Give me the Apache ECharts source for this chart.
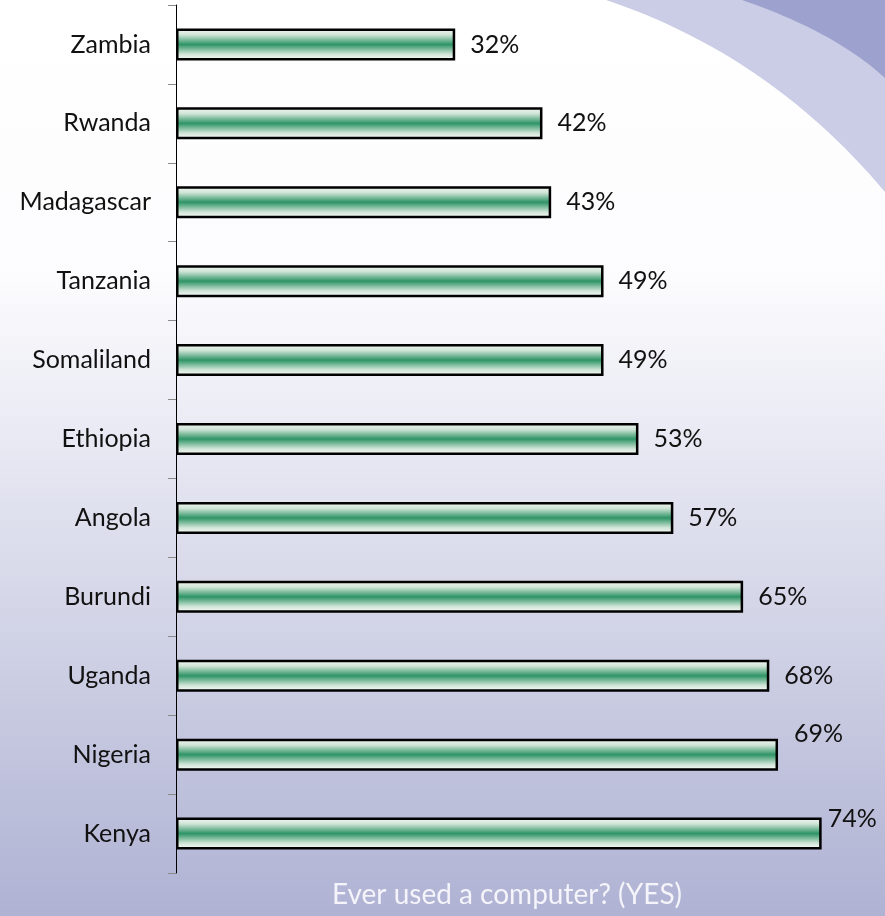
<!DOCTYPE html>
<html lang="en">
  <head>
    <meta charset="UTF-8" />
    <title>Ever used a computer?</title>
    <script src="https://cdn.jsdelivr.net/npm/echarts@6/dist/echarts.min.js"></script>
    <style>
      html, body { margin: 0; padding: 0; }
      #chart { width: 885px; height: 916px; }
    </style>
  </head>
  <body>
    <div id="chart"></div>
    <script>
      var countries = ['Zambia', 'Rwanda', 'Madagascar', 'Tanzania', 'Somaliland', 'Ethiopia',
                       'Angola', 'Burundi', 'Uganda', 'Nigeria', 'Kenya'];
      var usedComputer = [32, 42, 43, 49, 49, 53, 57, 65, 68, 69, 74];
      var titleText = 'Ever used a computer? (YES)';

      // labels that sit above the bar end in the original
      var labelShift = {
        Nigeria: { offset: [1, -21] },
        Kenya: { distance: 6, offset: [0, -15] }
      };

      var font = 'Lato, "Liberation Sans", sans-serif';

      // corner swoosh: quadratic curve from p0 to p2, closed through the top-right corner
      function swoosh(p0, c, p2) {
        var pts = [];
        for (var i = 0; i <= 30; i++) {
          var t = i / 30, u = 1 - t;
          pts.push([u * u * p0[0] + 2 * u * t * c[0] + t * t * p2[0],
                    u * u * p0[1] + 2 * u * t * c[1] + t * t * p2[1]]);
        }
        pts.push([885, 0]);
        return pts;
      }

      var barFill = new echarts.graphic.LinearGradient(0, 0, 0, 1, [
        { offset: 0, color: '#f6f9f6' },
        { offset: 0.2, color: '#cfe4d6' },
        { offset: 0.5, color: '#2e9466' },
        { offset: 0.8, color: '#cfe4d6' },
        { offset: 1, color: '#ffffff' }
      ]);

      var seriesData = usedComputer.map(function (v, i) {
        var item = { value: v };
        var s = labelShift[countries[i]];
        if (s) item.label = s;
        return item;
      });

      var chart = echarts.init(document.getElementById('chart'));
      chart.setOption({
        backgroundColor: {
          type: 'linear', x: 0, y: 0, x2: 0, y2: 1,
          colorStops: [
            { offset: 0, color: '#ffffff' },
            { offset: 0.3, color: '#fcfcfe' },
            { offset: 1, color: '#afb2d3' }
          ]
        },
        graphic: [
          {
            type: 'polygon',
            z: -1,
            shape: { points: swoosh([606, 0], [770, 55], [885, 192]) },
            style: { fill: '#cacde5' }
          },
          {
            type: 'polygon',
            z: -1,
            shape: { points: swoosh([742, 0], [835, 32], [885, 78]) },
            style: { fill: '#9da1cd' }
          },
          {
            type: 'text',
            x: 507,
            y: 895,
            style: {
              text: titleText, fill: '#f4f4fa', font: '28px ' + font,
              align: 'center', verticalAlign: 'middle'
            }
          }
        ],
        grid: { left: 176, right: 11, top: 5, bottom: 43 },
        xAxis: {
          type: 'value',
          min: 0,
          max: 80,
          show: false
        },
        yAxis: {
          type: 'category',
          inverse: true,
          data: countries,
          axisLine: { show: true, lineStyle: { color: '#000', width: 1 } },
          axisTick: { show: true, length: 8, lineStyle: { color: '#8a8a8a', width: 1 } },
          axisLabel: { margin: 25, color: '#111', fontSize: 25, fontFamily: font }
        },
        series: [
          {
            type: 'bar',
            data: seriesData,
            barWidth: 32,
            itemStyle: { color: barFill, borderColor: '#000', borderWidth: 2.5 },
            label: {
              show: true,
              position: 'right',
              distance: 15,
              formatter: '{c}%',
              color: '#111',
              fontSize: 25,
              fontFamily: font
            }
          }
        ]
      });
    </script>
  </body>
</html>
